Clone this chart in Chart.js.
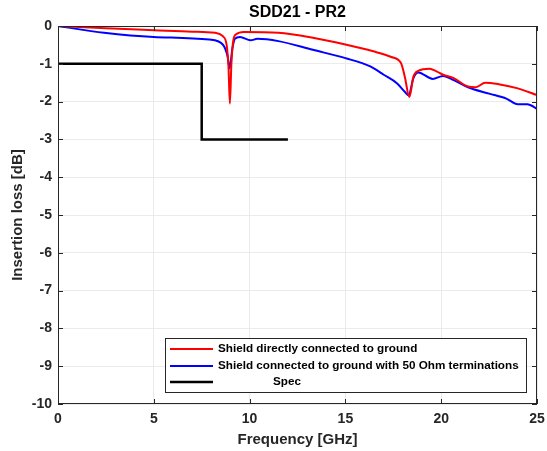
<!DOCTYPE html>
<html>
<head>
<meta charset="utf-8">
<script src="https://cdn.jsdelivr.net/npm/chart.js@4/dist/chart.umd.min.js"></script>
<style>
  html, body { margin: 0; padding: 0; background: #fff; }
  #wrap { width: 547px; height: 451px; }
</style>
</head>
<body>
<div id="wrap"><canvas id="grafico-sdd21"></canvas></div>
<script>
// SDD21 - PR2 insertion loss
const freqDirecto = [0, 2.5, 5, 7, 8.2, 8.6, 8.8, 8.9, 8.97, 9.05, 9.15, 9.3, 9.7, 11.5, 13.3, 15, 16.45, 17.4, 17.9, 18.1, 18.34, 18.55, 18.8, 19.4, 19.75, 20.1, 20.65, 21.4, 21.8, 22.3, 23, 24, 25];
const lossDirecto = [0, -0.06, -0.11, -0.15, -0.18, -0.27, -0.5, -1.1, -2.05, -1.0, -0.38, -0.22, -0.16, -0.18, -0.31, -0.49, -0.67, -0.82, -0.98, -1.34, -1.88, -1.34, -1.19, -1.13, -1.2, -1.29, -1.38, -1.6, -1.62, -1.5, -1.54, -1.65, -1.83];

const freq50Ohm = [0, 2.4, 5, 7.9, 8.6, 8.85, 8.96, 9.1, 9.23, 9.5, 10.05, 10.4, 11.5, 13.3, 15, 16.3, 17, 17.7, 18.1, 18.3, 18.55, 18.8, 19.56, 20.1, 20.65, 21.4, 22.5, 23.4, 24, 24.5, 25];
const loss50Ohm = [0, -0.18, -0.29, -0.36, -0.49, -0.8, -1.12, -0.6, -0.34, -0.29, -0.38, -0.34, -0.4, -0.63, -0.85, -1.07, -1.29, -1.52, -1.74, -1.83, -1.38, -1.23, -1.4, -1.32, -1.43, -1.62, -1.79, -1.92, -2.07, -2.07, -2.19];

const freqSpec = [0, 7.5, 7.5, 12];
const lossSpec = [-1, -1, -3, -3];

const ticksX = [0, 5, 10, 15, 20, 25];
const ticksY = [0, -1, -2, -3, -4, -5, -6, -7, -8, -9, -10];

const puntos = (xs, ys) => xs.map((x, i) => ({ x: x, y: ys[i] }));

const fuente = "'Liberation Sans', Arial, sans-serif";
const colorTexto = "#262626";

// Box, inward ticks, title and the legend drawn inside the plot
const marcoMatlab = {
    id: "marcoMatlab",
    afterDatasetsDraw(chart) {
        const { ctx, chartArea: a, scales } = chart;
        ctx.save();
        ctx.strokeStyle = "#262626";
        ctx.lineWidth = 1;
        ctx.strokeRect(a.left + 0.5, a.top + 0.5, a.right - a.left - 1, a.bottom - a.top - 1);
        ctx.beginPath();
        ticksX.forEach(v => {
            const px = Math.round(scales.x.getPixelForValue(v)) + 0.5;
            ctx.moveTo(px, a.bottom); ctx.lineTo(px, a.bottom - 5);
            ctx.moveTo(px, a.top); ctx.lineTo(px, a.top + 5);
        });
        ticksY.forEach(v => {
            const py = Math.round(scales.y.getPixelForValue(v)) + 0.5;
            ctx.moveTo(a.left, py); ctx.lineTo(a.left + 5, py);
            ctx.moveTo(a.right, py); ctx.lineTo(a.right - 5, py);
        });
        ctx.stroke();

        // title
        ctx.fillStyle = "#000";
        ctx.font = "bold 16px " + fuente;
        ctx.textAlign = "center";
        ctx.textBaseline = "middle";
        ctx.fillText("SDD21 - PR2", (a.left + a.right) / 2, 13);

        // legend box
        const lx = 165, ly = 338, lw = 361, lh = 54;
        ctx.fillStyle = "#fff";
        ctx.fillRect(lx, ly, lw, lh);
        ctx.strokeStyle = "#262626";
        ctx.strokeRect(lx + 0.5, ly + 0.5, lw, lh);
        ctx.font = "bold 11.7px " + fuente;
        ctx.textAlign = "left";
        const filas = [349, 366, 382];
        chart.data.datasets.forEach((ds, i) => {
            const y = filas[i];
            ctx.strokeStyle = ds.borderColor;
            ctx.lineWidth = ds.borderWidth;
            ctx.beginPath();
            ctx.moveTo(170, y); ctx.lineTo(213, y);
            ctx.stroke();
            ctx.fillStyle = "#000";
            ctx.fillText(ds.label, i === 2 ? 273 : 218, y);
        });
        ctx.restore();
    }
};

const ctx1 = document.getElementById("grafico-sdd21").getContext("2d");
new Chart(ctx1, {
    type: "scatter",
    data: {
        datasets: [
            {
                label: "Shield directly connected to ground",
                data: puntos(freqDirecto, lossDirecto),
                borderColor: "#ff0000",
                borderWidth: 2,
                showLine: true,
                pointRadius: 0,
                cubicInterpolationMode: "monotone",
            },
            {
                label: "Shield connected to ground with 50 Ohm terminations",
                data: puntos(freq50Ohm, loss50Ohm),
                borderColor: "#0000ff",
                borderWidth: 2,
                showLine: true,
                pointRadius: 0,
                cubicInterpolationMode: "monotone",
            },
            {
                label: "Spec",
                data: puntos(freqSpec, lossSpec),
                borderColor: "#000000",
                borderWidth: 2.5,
                showLine: true,
                pointRadius: 0,
            },
        ],
    },
    options: {
        responsive: true,
        maintainAspectRatio: false,
        animation: false,
        layout: { padding: { top: 26, right: 10, left: 0, bottom: 0 } },
        plugins: {
            legend: { display: false },
            tooltip: { enabled: false },
        },
        scales: {
            x: {
                type: "linear",
                min: 0,
                max: 25,
                afterBuildTicks: s => { s.ticks = ticksX.map(v => ({ value: v })); },
                afterFit: s => { s.height = 47; s.paddingLeft = 0; s.paddingRight = 0; },
                grid: { color: "#ebebeb", drawTicks: false },
                border: { display: false },
                ticks: { padding: 7, color: colorTexto, font: { family: fuente, size: 14, weight: "bold" } },
                title: {
                    display: true,
                    text: "Frequency [GHz]",
                    color: colorTexto,
                    padding: { top: 0, bottom: 2 },
                    font: { family: fuente, size: 15, weight: "bold" },
                },
            },
            y: {
                min: -10,
                max: 0,
                afterBuildTicks: s => { s.ticks = ticksY.map(v => ({ value: v })); },
                afterFit: s => { s.width = 58; s.paddingTop = 0; s.paddingBottom = 0; },
                grid: { color: "#ebebeb", drawTicks: false },
                border: { display: false },
                ticks: { padding: 6, color: colorTexto, font: { family: fuente, size: 14, weight: "bold" } },
                title: {
                    display: true,
                    text: "Insertion loss [dB]",
                    color: colorTexto,
                    padding: { top: 9, bottom: 0 },
                    font: { family: fuente, size: 15, weight: "bold" },
                },
            },
        },
    },
    plugins: [marcoMatlab],
});
</script>
</body>
</html>
